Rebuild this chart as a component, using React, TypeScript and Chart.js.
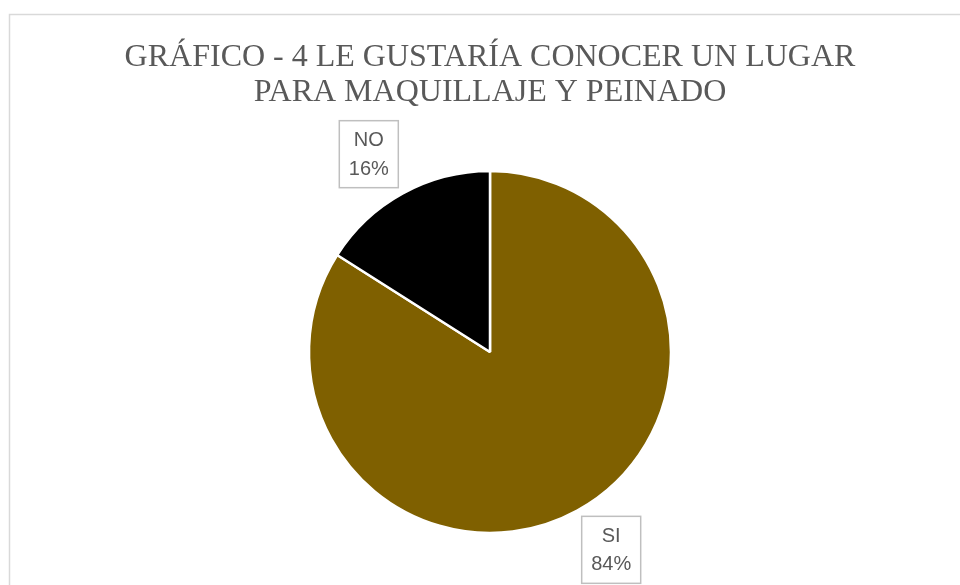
import React, { useEffect, useRef } from "react";
import { Chart, registerables } from "chart.js";

Chart.register(...registerables);

const titleLines = ["GRÁFICO - 4 LE GUSTARÍA CONOCER UN LUGAR", "PARA MAQUILLAJE Y PEINADO"];
const categories = ["SI", "NO"];
const percentages = [84, 16];
const sliceColors = ["#7F6000", "#000000"];

const framePlugin = {
  id: "frame",
  beforeDraw(chart: any) {
    const ctx = chart.ctx;
    ctx.save();
    ctx.fillStyle = "#ffffff";
    ctx.fillRect(0, 0, chart.width, chart.height);
    ctx.strokeStyle = "#d9d9d9";
    ctx.lineWidth = 1.5;
    ctx.strokeRect(9.5, 14.5, chart.width + 20, chart.height + 20);
    ctx.restore();
  },
};

const boxLabelPlugin = {
  id: "boxLabels",
  afterDatasetsDraw(chart: any) {
    const ctx = chart.ctx;
    const meta = chart.getDatasetMeta(0);
    const data = chart.data.datasets[0].data as number[];
    const total = data.reduce((a, b) => a + b, 0);
    ctx.save();
    meta.data.forEach((arc: any, i: number) => {
      const { x, y, startAngle, endAngle, outerRadius } = arc.getProps(
        ["x", "y", "startAngle", "endAngle", "outerRadius"],
        true
      );
      const mid = (startAngle + endAngle) / 2 - 0.047;
      const dist = outerRadius + 51;
      const cx = x + Math.cos(mid) * dist;
      const cy = y + Math.sin(mid) * dist;
      const w = 59;
      const h = 67;
      ctx.fillStyle = "#ffffff";
      ctx.fillRect(cx - w / 2, cy - h / 2, w, h);
      ctx.strokeStyle = "#bfbfbf";
      ctx.lineWidth = 1.5;
      ctx.strokeRect(cx - w / 2, cy - h / 2, w, h);
      ctx.fillStyle = "#595959";
      ctx.font = "20px 'Liberation Sans', Arial, sans-serif";
      ctx.textAlign = "center";
      ctx.textBaseline = "middle";
      const pct = Math.round((data[i] / total) * 100) + "%";
      ctx.fillText(String(chart.data.labels[i]), cx, cy - 13.5);
      ctx.fillText(pct, cx, cy + 15);
    });
    ctx.restore();
  },
};

export default function App() {
  const canvasRef = useRef<HTMLCanvasElement | null>(null);

  useEffect(() => {
    if (!canvasRef.current) return;
    const chart = new Chart(canvasRef.current, {
      type: "pie",
      data: {
        labels: categories,
        datasets: [
          {
            data: percentages,
            backgroundColor: sliceColors,
            borderColor: "#ffffff",
            borderWidth: 2.5,
          },
        ],
      },
      options: {
        responsive: false,
        animation: false,
        radius: 181,
        layout: { padding: { left: 20, right: 0, top: 0, bottom: 52 } },
        plugins: {
          legend: { display: false },
          tooltip: { enabled: false },
          title: {
            display: true,
            text: titleLines,
            color: "#595959",
            font: {
              family: "'Liberation Serif', 'Times New Roman', serif",
              size: 32,
              weight: "normal",
              lineHeight: 1.094,
            },
            padding: { top: 40, bottom: 61 },
          },
        },
      } as any,
      plugins: [framePlugin, boxLabelPlugin],
    });
    return () => chart.destroy();
  }, []);

  return (
    <div style={{ position: "absolute", left: 0, top: 0, width: 960, height: 585 }}>
      <canvas ref={canvasRef} width={960} height={585} />
    </div>
  );
}
